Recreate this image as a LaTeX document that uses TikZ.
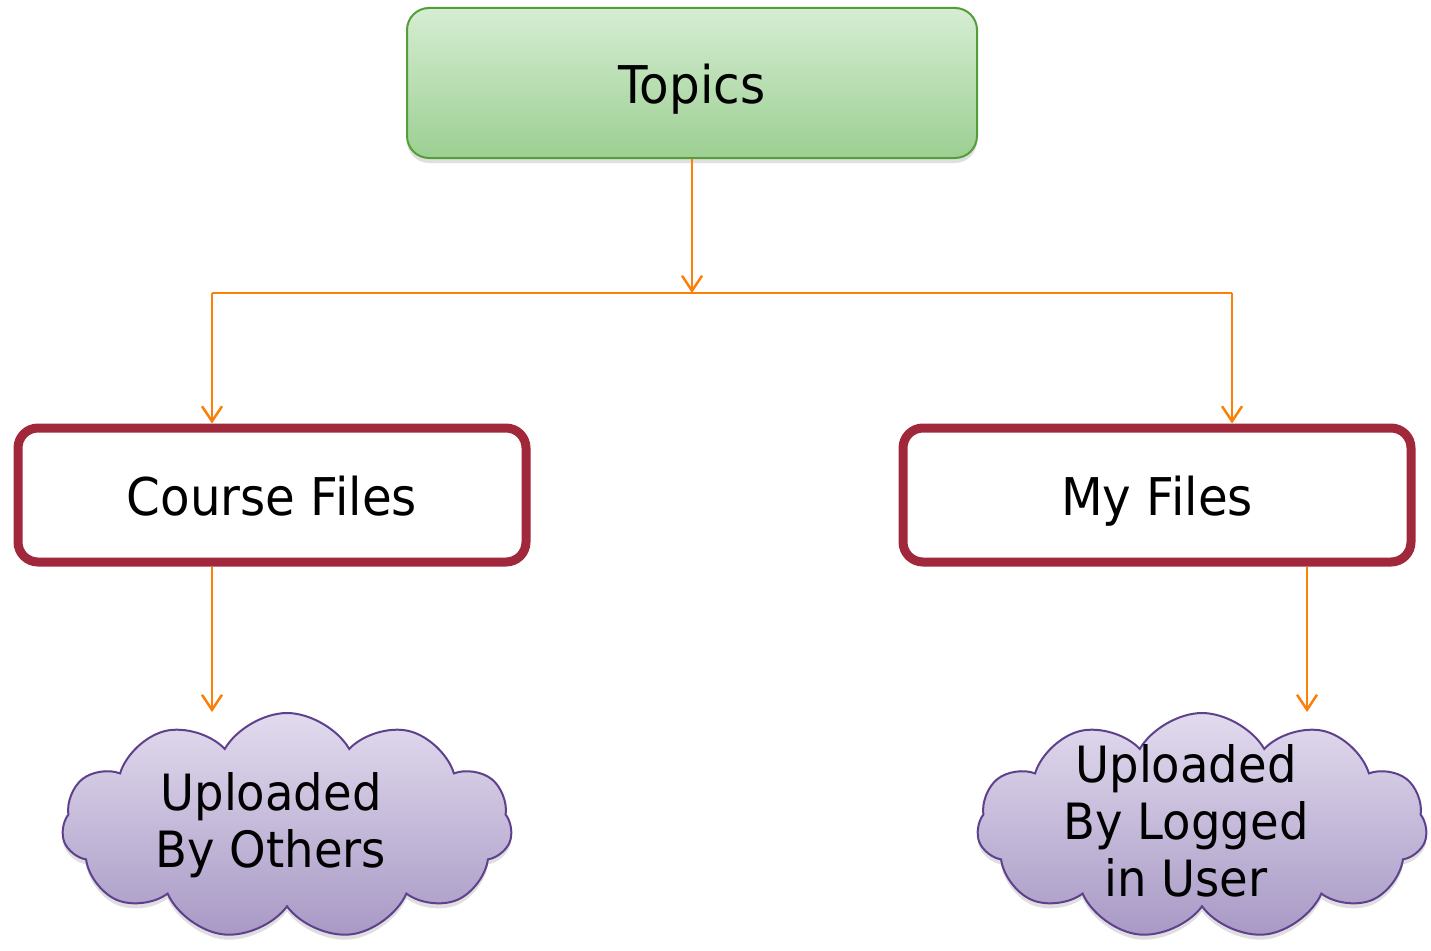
\documentclass[tikz,border=0pt]{standalone}
\usepackage{fontspec}
\setmainfont{DejaVu Sans}[FakeStretch=0.93]
\usetikzlibrary{arrows.meta,shapes.symbols,shadows}

\definecolor{topicline}{RGB}{84,158,56}
\definecolor{topictop}{RGB}{214,237,211}
\definecolor{topicbottom}{RGB}{156,207,146}
\definecolor{fileline}{RGB}{160,40,58}
\definecolor{linkorange}{RGB}{250,128,10}
\definecolor{cloudline}{RGB}{94,64,140}
\definecolor{cloudtop}{RGB}{226,219,238}
\definecolor{cloudbottom}{RGB}{168,153,197}

\begin{document}
\begin{tikzpicture}[x=1pt, y=-1pt, >={Straight Barb[length=15pt,width=20pt]},
		topicbox/.style={draw=topicline, line width=2pt, rounded corners=22pt,
			top color=topictop, bottom color=topicbottom,
			minimum width=570, minimum height=150,
			text height=40pt, text depth=0pt,
			drop shadow={opacity=0.25, shadow xshift=0pt, shadow yshift=-5pt},
			font=\fontsize{52}{62}\selectfont},
		filebox/.style={draw=fileline, line width=9pt, rounded corners=20pt, fill=white,
			minimum width=508, minimum height=134,
			text height=40pt, text depth=0pt,
			font=\fontsize{52}{62}\selectfont},
		cloudbox/.style={cloud, cloud puffs=11, cloud puff arc=120, aspect=2,
			draw=cloudline, line width=2pt, top color=cloudtop, bottom color=cloudbottom,
			minimum width=450, minimum height=226,
			drop shadow={opacity=0.25, shadow xshift=0pt, shadow yshift=-5pt}},
		cloudtext/.style={align=center, font=\fontsize{50}{57}\selectfont},
		link/.style={draw=linkorange, line width=2.5pt},
		conn/.style={link, ->}]
	\useasboundingbox (0,0) rectangle (1431,950);

	% Boxes
	\node[topicbox] (topics) at (692,83) {Topics};
	\node[filebox] (cf) at (272,495) {Course Files};
	\node[filebox] (mf) at (1157,495) {My Files};

	% Clouds
	\node[cloudbox] (ob) at (287,826) {};
	\node[cloudbox] (lu) at (1202,826) {};
	\node[cloudtext] (obtext) at (271,825) {Uploaded\\By Others};
	\node[cloudtext] (lutext) at (1186,821) {Uploaded\\By Logged\\in User};

	% Connectors
	\coordinate (split) at (692,293);
	\coordinate (cfin) at (212,293);
	\coordinate (mfin) at (1232,293);
	\draw[conn] (topics) -- (split);
	\draw[link] (cfin) -- (mfin);
	\draw[conn] (cfin) -- (cfin |- cf.north);
	\draw[conn] (mfin) -- (mfin |- mf.north);
	\draw[conn] ([xshift=-60pt]cf.south) -- ([xshift=-60pt]cf.south |- ob.north);
	\draw[conn] ([xshift=150pt]mf.south) -- ([xshift=150pt]mf.south |- lu.north);
\end{tikzpicture}
\end{document}
